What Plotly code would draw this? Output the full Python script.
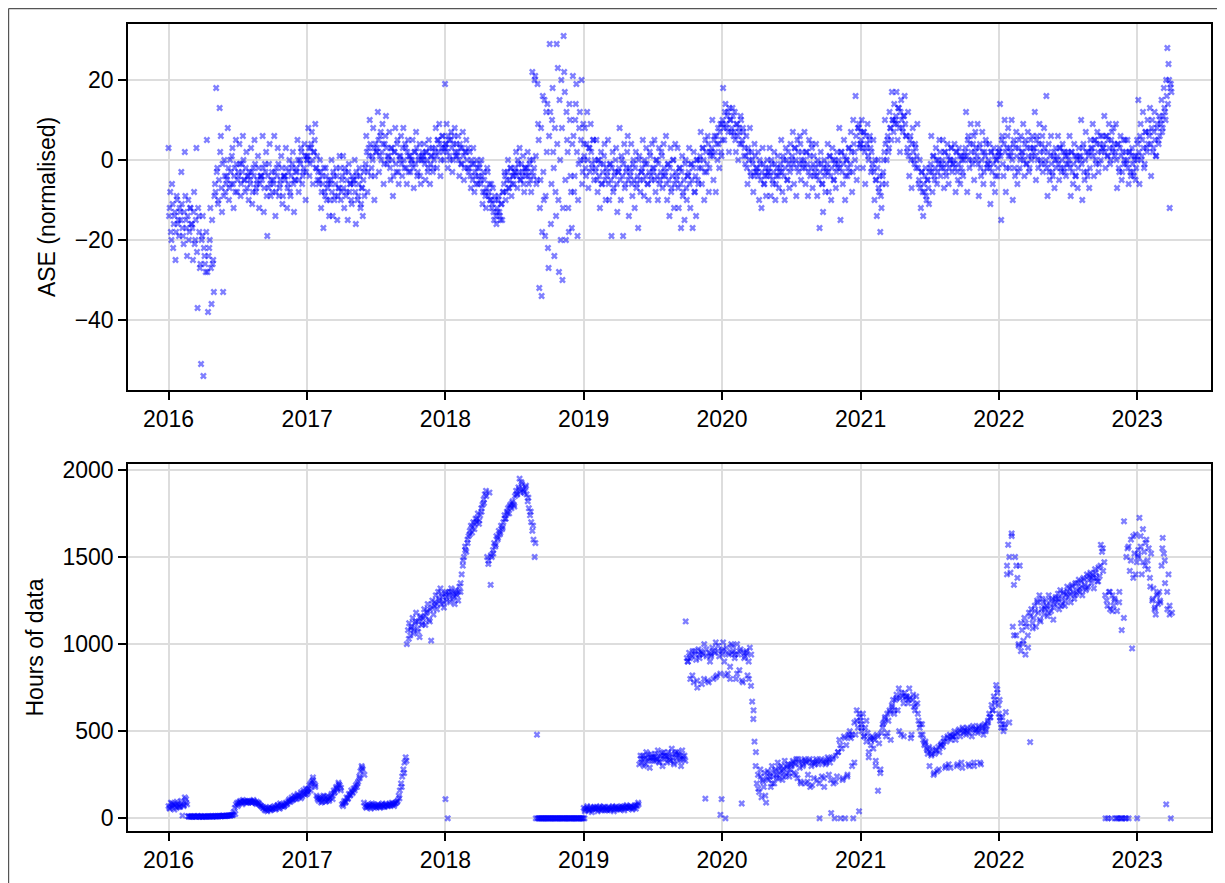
import pandas as pd
import plotly.graph_objects as go
from plotly.subplots import make_subplots

# ASE (normalised): ten readings per month, Jan..Dec (wide spread)
ase_2016 = [3, -12, -18, -6, -22, -14, -25, -9, -16, -19,
            -13, -3, -17, -21, 2, -15, -24, -10, -18, -12,
            -16, -25, -8, -20, 3, -37, -14, -27, -51, -19,
            -54, -24, -28, 5, -38, -22, -12, -36, -26, -33,
            -6, 18, -2, -10, 13, 6, -13, -33, 0, -8,
            -4, 8, -10, 0, -6, 3, -12, -2, 5, -8,
            -3, 4, -9, -1, 6, -5, -8, 2, -4, -10,
            -5, 3, -11, -2, 5, -8, -6, 1, -12, -4,
            -4, 6, -13, -1, 2, -19, -7, 4, -9, -3,
            -5, 6, -14, -2, 3, -9, -6, 1, -11, -4,
            -4, 3, -12, -6, 0, -9, -2, 2, -13, -5,
            -2, 5, -8, 0, 3, -6, -3, 4, -10, 1]
ase_2017 = [0, 8, -4, 3, 7, -6, 2, 9, -2, -5,
            -6, 0, -12, -4, -17, -8, -2, -10, -6, -14,
            -6, 0, -14, -4, -9, -2, -15, -7, 1, -10,
            -5, 1, -12, -3, -8, -15, -1, -6, -10, -4,
            -6, 0, -16, -4, -9, -2, -12, -7, -14, -3,
            -2, 6, -8, 3, 10, -4, 1, 8, -10, 4,
            2, 12, -3, 6, 0, 9, -6, 4, 11, -1,
            0, 7, -5, 3, -9, 2, 8, -3, 5, -6,
            0, 6, -4, 8, -2, 3, -6, 5, 1, -3,
            -1, 5, -7, 2, 7, -4, 0, 4, -6, 1,
            0, 4, -5, 2, -3, 5, -6, 1, 3, -2,
            2, 8, -2, 5, 9, -4, 3, 6, 0, 19]
ase_2018 = [3, 9, -2, 5, 0, 7, -3, 4, 8, 1,
            1, 6, -4, 3, -1, 7, -5, 2, 5, -2,
            -3, 2, -7, -1, 3, -8, -4, 0, -6, -2,
            -5, 0, -11, -3, -8, -12, -2, -9, -6, -10,
            -12, -7, -15, -10, -16, -13, -9, -14, -11, -15,
            -8, -3, -10, -5, 0, -7, -2, -9, -4, -6,
            -3, 2, -7, -1, 3, -5, -4, 1, -8, -2,
            -3, 2, -6, 0, -8, 22, -4, 20, 1, -5,
            9, -32, -5, -34, 16, -10, -19, 12, 14, -27,
            29, -16, 10, 2, -24, -8, 29, 23, -28, 0,
            20, -30, 31, 17, -20, 5, -12, 14, -4, -17,
            21, -8, 10, 19, -19, -1, 12, 5, -6, 9]
ase_2019 = [0, 8, -4, 12, -7, 3, 9, -2, 5, -5,
            -3, 5, -8, 0, -12, 2, -6, -1, 4, -10,
            -4, 5, -10, -1, -19, 2, -7, -3, 3, -13,
            -3, 8, -10, 0, -19, 4, -6, -2, 6, -14,
            -4, 4, -9, 0, -12, 2, -6, -17, 1, -8,
            -3, 5, -9, -1, 3, -6, -10, 2, -4, 4,
            -3, 5, -8, 0, -10, 3, -5, 2, -7, 4,
            -4, 6, -10, -1, -14, 3, -7, 0, -12, 4,
            -5, 3, -12, -2, -17, 1, -8, -15, 0, -10,
            -4, 3, -12, -1, -17, 2, -8, -14, 0, -6,
            0, 7, -6, 3, -10, 5, -3, 6, -8, 2,
            2, 10, -5, 6, -8, 4, 8, -2, 9, 1]
ase_2020 = [9, 18, 5, 14, 8, 12, 2, 10, 7, 13,
            6, 12, 2, 9, 0, 7, 11, 4, 8, 1,
            -1, 6, -6, 2, 8, -4, 0, -8, 4, -3,
            -3, 2, -10, -1, -12, 3, -6, -4, -9, 0,
            -3, 3, -9, -1, -6, 2, -10, -4, 1, -7,
            -2, 5, -8, 0, -10, 3, -5, 2, -7, 4,
            0, 7, -6, 3, -9, 5, -3, 6, -5, 2,
            -1, 7, -6, 2, -9, 5, -4, 4, -7, 1,
            -3, 4, -9, -1, -17, 2, -6, -13, 0, -8,
            -2, 4, -8, 1, -10, 3, -5, 0, -7, 2,
            -1, 8, -15, 2, -6, 5, -10, 0, -4, 3,
            -3, 7, -8, 10, 2, 16, -5, 8, 9, 4]
ase_2021 = [4, 10, -2, 7, -6, 3, 9, 0, 6, -3,
            -2, 5, -10, -5, -14, 0, -8, -18, -12, -4,
            0, 10, -6, 5, 2, 12, 8, 17, 10, 14,
            10, 17, 5, 13, 2, 15, 8, 11, 16, 6,
            2, 12, -4, 6, -7, 8, 0, 4, -2, 9,
            -6, 0, -12, -3, -14, -8, -2, -10, -5, -11,
            -2, 6, -8, 1, -5, 3, -6, 0, 5, -4,
            -1, 5, -7, 2, -4, 4, -6, 0, 3, -3,
            -1, 4, -8, 2, -5, 3, -6, 1, -3, 0,
            2, 12, -8, 6, -2, 9, 0, 4, -5, 7,
            0, 9, -9, 4, -4, 7, -6, 2, 5, -2,
            -1, 4, -11, 2, -6, 3, -8, 0, -4, 1]
ase_2022 = [2, 14, -15, 6, -4, 10, -8, 3, 8, -2,
            1, 10, -10, 5, -4, 7, -6, 3, -2, 6,
            1, 9, -4, 5, -1, 7, -3, 3, 0, 6,
            2, 12, -5, 6, -2, 9, 0, 4, -3, 8,
            -1, 16, -9, 4, -5, 6, -3, 1, -7, 3,
            0, 6, -5, 3, -3, 4, -2, 2, -4, 1,
            -1, 6, -9, 2, -6, 4, -4, 1, -7, 3,
            0, 10, -10, 4, -5, 7, -3, 2, -7, 5,
            2, 9, -4, 5, -1, 7, -3, 4, 0, 6,
            3, 11, -2, 6, 1, 9, -1, 5, 2, 8,
            1, 9, -7, 4, -3, 6, -5, 2, -1, 5,
            -1, 5, -6, 2, -4, 3, -3, 0, -5, 1]
ase_2023 = [5, 15, -6, 9, 1, 12, -2, 7, 3, 10,
            7, 13, -4, 10, 3, 12, 1, 8, 5, 11,
            10, 15, 8, 18, 12, 20, 28, 24, -12, 19]

# ASE (normalised): second set of ten readings per month (core of the cloud)
ase_b_2016 = [-14, -8, -20, -11, -16, -13, -18, -10, -15, -12,
              -15, -11, -19, -13, -9, -17, -14, -20, -12, -16,
              -17, -13, -21, -15, -23, -12, -18, -26, -20, -14,
              -22, -26, -18, -28, -24, -20, -27, -15, -25, -9,
              -8, -3, -11, -5, 2, -7, -1, -9, -4, -6,
              -5, -2, -7, -3, 1, -6, -4, -8, -1, -5,
              -4, -1, -6, -3, 0, -5, -2, -7, -4, -3,
              -6, -3, -8, -4, -1, -7, -5, -2, -6, -4,
              -5, -2, -7, -3, -9, -4, -1, -6, -5, -8,
              -6, -3, -8, -4, -1, -7, -5, -2, -9, -4,
              -5, -2, -7, -3, -8, -4, -1, -6, -5, -3,
              -3, 0, -5, -1, 2, -4, -2, 1, -3, 0]
ase_b_2017 = [1, 3, -1, 4, 0, 2, 5, -2, 1, -3,
              -5, -3, -8, -6, -2, -9, -4, -7, -5, -10,
              -5, -8, -3, -10, -6, -4, -9, -7, -2, -8,
              -4, -7, -2, -9, -5, -3, -8, -6, -11, -5,
              -5, -8, -3, -10, -6, -4, -11, -7, -5, -9,
              -1, 2, -3, 1, 4, -2, 0, 3, -4, 2,
              3, 5, 1, 7, 2, 4, -1, 6, 3, 1,
              1, -2, 3, 0, -4, 2, -1, 4, -3, 1,
              1, -1, 3, 0, 4, -2, 2, -3, 1, 0,
              0, -2, 2, -1, 3, -3, 1, -4, 0, 2,
              1, -1, 2, 0, -2, 3, -1, 1, -3, 0,
              3, 1, 5, 2, 4, 0, 6, 2, 3, 4]
ase_b_2018 = [4, 2, 6, 1, 5, 3, 0, 6, 2, 4,
              2, 0, 4, -1, 3, 1, -2, 2, 0, 3,
              -2, -4, 0, -5, -1, -3, -6, -2, -4, -1,
              -6, -4, -8, -5, -9, -7, -3, -8, -10, -6,
              -11, -13, -9, -14, -12, -10, -13, -15, -11, -8,
              -6, -4, -8, -3, -7, -5, -2, -6, -4, -3,
              -2, -4, 0, -3, -5, -1, -3, -6, -2, -4,
              -2, -4, -1, -5, -3, 0, -2, 21, -6, 19,
              5, -12, 8, -18, -3, 15, -9, 2, -22, 6,
              12, -6, 18, -2, 8, -14, 4, -10, 15, -20,
              8, -12, 22, -5, 12, 2, -18, 10, -8, 4,
              6, -4, 14, 2, -10, 8, 0, 20, -3, 4]
ase_b_2019 = [1, -2, 4, 0, 3, -3, 2, -1, 5, 0,
              -2, -5, 0, -4, -1, -6, -3, 1, -5, -2,
              -3, -6, -1, -5, -2, -8, -4, 0, -6, -3,
              -2, -5, 1, -4, -1, -7, -3, 2, -5, -2,
              -3, -6, -1, -5, -2, -7, -4, 0, -5, -3,
              -2, -5, 0, -4, -1, -6, -3, 1, -5, -2,
              -2, -5, 0, -4, -1, -6, -3, 1, -4, -2,
              -3, -6, -1, -5, -2, -8, -4, 0, -6, -3,
              -4, -7, -2, -6, -3, -9, -5, -1, -7, -4,
              -3, -6, -1, -5, -2, -8, -4, 0, -5, -2,
              1, -2, 3, 0, -3, 2, -1, 4, -2, 1,
              3, 1, 5, 2, 6, 0, 4, 7, 2, 5]
ase_b_2020 = [10, 8, 12, 9, 11, 7, 13, 10, 8, 11,
              7, 5, 9, 6, 8, 4, 10, 5, 7, 3,
              1, -2, 3, 0, -3, 2, -1, -4, 1, -2,
              -2, -4, 0, -5, -3, -1, -6, -2, -4, -3,
              -2, -4, 0, -5, -3, -1, -6, -2, -4, -3,
              -1, -3, 1, -4, -2, 0, -5, -1, -3, -2,
              1, -1, 3, 0, -2, 2, -1, 4, 0, -2,
              0, -2, 2, -1, -3, 1, -2, 3, -1, -4,
              -2, -4, 0, -5, -3, -1, -6, -2, -4, -3,
              -1, -3, 1, -4, -2, 0, -5, -1, -3, -2,
              0, -2, 2, -3, -1, 1, -4, 0, -2, 3,
              -1, 2, -3, 4, 0, 6, -2, 8, 3, 7]
ase_b_2021 = [5, 3, 7, 2, 6, 4, 1, 5, 3, 2,
              -1, -3, 0, -5, -2, -7, -4, -9, -6, -3,
              2, 4, 0, 6, 3, 8, 5, 10, 7, 9,
              11, 9, 13, 8, 12, 10, 7, 11, 9, 6,
              3, 1, 5, 0, 4, 2, -1, 3, 1, -2,
              -5, -7, -3, -8, -6, -4, -9, -5, -7, -3,
              -1, -3, 1, -4, -2, 0, -3, -1, 2, -2,
              0, -2, 2, -3, -1, 1, -2, 0, 3, -1,
              0, -2, 2, -3, -1, 1, -2, 0, -4, 1,
              3, 1, 5, 0, 4, 2, -1, 6, 2, 3,
              1, -1, 3, -2, 0, 2, -3, 1, 4, -1,
              0, -2, 2, -3, -1, 1, -4, 0, -2, 2]
ase_b_2022 = [3, 1, 5, -1, 4, 2, -2, 6, 1, 3,
              2, 0, 4, -2, 3, 1, -3, 5, 0, 2,
              2, 0, 4, -1, 3, 1, -2, 5, 1, 3,
              3, 1, 5, 0, 4, 2, -1, 6, 2, 3,
              0, -2, 2, -3, 1, -1, -4, 2, 0, -2,
              1, -1, 3, -2, 0, 2, -3, 1, -1, 2,
              0, -2, 2, -3, -1, 1, -4, 0, -2, 1,
              1, -1, 3, -3, 0, 2, -4, 1, -2, 3,
              3, 1, 5, 0, 4, 2, -1, 6, 2, 3,
              4, 2, 6, 1, 5, 3, 0, 7, 3, 4,
              2, 0, 4, -2, 3, 1, -3, 5, 0, 2,
              0, -2, 2, -3, 1, -1, -4, 1, -2, 0]
ase_b_2023 = [4, 2, 6, 0, 5, 3, -1, 7, 2, 4,
              6, 4, 8, 2, 7, 5, 1, 9, 4, 6,
              9, 7, 11, 13, 10, 16, 14, 20, 18, 17]

# Hours of data: ten readings per month, Jan..Dec
hours_2016 = [70, 55, 90, 65, 80, 50, 75, 60, 85, 70,
              65, 100, 15, 75, 120, 90, 80, 12, 10, 8,
              10, 8, 12, 10, 9, 11, 10, 8, 12, 10,
              10, 12, 9, 11, 10, 12, 10, 11, 9, 12,
              12, 10, 13, 11, 14, 12, 13, 15, 12, 14,
              15, 14, 17, 16, 18, 20, 35, 60, 80, 90,
              85, 95, 100, 90, 105, 95, 100, 90, 98, 92,
              95, 100, 90, 105, 92, 88, 95, 85, 80, 75,
              70, 60, 55, 45, 60, 40, 55, 65, 50, 60,
              55, 70, 50, 65, 75, 60, 85, 70, 80, 65,
              75, 90, 80, 100, 110, 95, 120, 105, 130, 115,
              110, 140, 120, 130, 150, 125, 160, 140, 170, 155]
hours_2017 = [140, 170, 190, 160, 210, 235, 200, 180, 130, 110,
              100, 120, 90, 115, 130, 105, 95, 125, 110, 100,
              120, 140, 110, 160, 150, 180, 170, 205, 190, 160,
              80, 70, 100, 90, 120, 110, 140, 130, 160, 150,
              170, 160, 190, 180, 210, 240, 270, 300, 280, 90,
              70, 60, 80, 65, 75, 55, 85, 70, 60, 75,
              65, 80, 70, 60, 75, 85, 70, 65, 80, 75,
              70, 85, 75, 90, 80, 70, 85, 90, 100, 130,
              160, 200, 240, 280, 320, 350, 1000, 1080, 1120, 1050,
              1100, 1150, 1060, 1120, 1180, 1090, 1130, 1040, 1160, 1110,
              1150, 1200, 1110, 1180, 1230, 1140, 1200, 1020, 1250, 1170,
              1240, 1280, 1200, 1300, 1250, 1320, 1230, 1270, 1210, 1290]
hours_2018 = [110, 1270, 0, 1300, 1240, 1320, 1260, 1290, 1230, 1310,
              1280, 1250, 1330, 1300, 1400, 1450, 1500, 1560, 1530, 1600,
              1620, 1650, 1680, 1640, 1700, 1660, 1720, 1700, 1750, 1690,
              1740, 1780, 1800, 1830, 1860, 1880, 1500, 1460, 1870, 1340,
              1500, 1540, 1580, 1560, 1620, 1600, 1650, 1630, 1680, 1660,
              1700, 1740, 1720, 1760, 1780, 1750, 1800, 1780, 1820, 1800,
              1850, 1880, 1860, 1900, 1950, 1870, 1920, 1890, 1870, 1900,
              1860, 1820, 1780, 1740, 1700, 1650, 1600, 1500, 0, 480,
              0, 0, 0, 0, 0, 0, 0, 0, 0, 0,
              0, 0, 0, 0, 0, 0, 0, 0, 0, 0,
              0, 0, 0, 0, 0, 0, 0, 0, 0, 0,
              0, 0, 0, 0, 0, 0, 0, 0, 0, 0]
hours_2019 = [60, 40, 55, 70, 45, 50, 65, 35, 55, 60,
              50, 65, 40, 55, 70, 45, 60, 50, 65, 55,
              55, 45, 65, 50, 60, 70, 40, 55, 65, 50,
              60, 50, 70, 55, 65, 45, 60, 75, 55, 65,
              60, 70, 50, 65, 75, 55, 70, 90, 310, 360,
              320, 360, 300, 350, 380, 330, 340, 290, 370, 350,
              350, 330, 370, 340, 390, 320, 360, 350, 300, 380,
              340, 360, 320, 380, 350, 330, 400, 345, 310, 370,
              350, 380, 330, 360, 300, 390, 340, 360, 1130, 920,
              900, 950, 800, 930, 960, 780, 940, 910, 750, 970,
              920, 960, 770, 940, 1000, 113, 930, 790, 950, 900,
              940, 980, 800, 950, 1010, 820, 960, 930, 20, 110]
hours_2020 = [960, 1010, 900, 0, 980, 830, 940, 870, 1000, 950,
              960, 920, 800, 1000, 940, 850, 970, 85, 780, 950,
              930, 960, 820, 900, 980, 760, 670, 570, 440, 300,
              200, 250, 150, 280, 120, 220, 180, 260, 90, 230,
              220, 260, 180, 300, 240, 200, 280, 250, 320, 230,
              260, 300, 220, 280, 330, 250, 290, 310, 240, 280,
              300, 330, 260, 310, 340, 230, 320, 290, 200, 330,
              310, 340, 200, 320, 250, 330, 180, 300, 320, 230,
              320, 340, 220, 310, 0, 330, 240, 320, 180, 310,
              330, 350, 250, 320, 30, 340, 200, 0, 360, 240,
              380, 450, 0, 400, 230, 470, 0, 420, 250, 480,
              500, 460, 300, 0, 550, 480, 620, 520, 40, 580]
hours_2021 = [560, 500, 600, 470, 520, 440, 490, 350, 460, 420,
              470, 400, 450, 300, 480, 158, 430, 260, 490, 520,
              550, 580, 470, 600, 560, 620, 450, 650, 680, 600,
              680, 710, 620, 745, 690, 480, 700, 660, 720, 690,
              700, 660, 745, 690, 480, 680, 640, 620, 700, 660,
              560, 520, 480, 540, 450, 420, 440, 400, 370, 410,
              380, 360, 400, 250, 370, 390, 270, 410, 380, 420,
              430, 410, 460, 290, 440, 470, 310, 480, 450, 470,
              470, 500, 450, 300, 490, 510, 470, 320, 520, 490,
              500, 480, 520, 310, 490, 510, 470, 530, 300, 500,
              510, 490, 530, 320, 500, 520, 480, 540, 510, 530,
              550, 600, 580, 650, 620, 700, 680, 765, 720, 650]
hours_2022 = [600, 560, 520, 580, 500, 540, 610, 1400, 1570, 550,
              1410, 1635, 1100, 1340, 1500, 1050, 1380, 1000, 1450, 960,
              1080, 1000, 1150, 940, 1100, 1050, 1180, 437, 1200, 1120,
              1150, 1220, 1100, 1250, 1180, 1280, 1130, 1200, 1240, 1170,
              1200, 1250, 1160, 1280, 1220, 1190, 1260, 1140, 1230, 1270,
              1240, 1290, 1200, 1310, 1260, 1230, 1300, 1220, 1280, 1330,
              1270, 1320, 1240, 1340, 1300, 1260, 1350, 1290, 1310, 1370,
              1300, 1360, 1280, 1380, 1340, 1310, 1400, 1330, 1370, 1410,
              1350, 1400, 1320, 1430, 1380, 1360, 1440, 1390, 1570, 1530,
              1420, 1470, 0, 1250, 0, 1300, 1200, 0, 1280, 1220,
              1250, 0, 1190, 0, 1300, 0, 1080, 0, 1705, 0,
              1500, 1550, 0, 1420, 1600, 975, 1380, 1520, 1630, 1470]
hours_2023 = [0, 1500, 1725, 1560, 1400, 1660, 1530, 1450, 1600, 1480,
              1550, 1380, 1520, 1250, 1320, 1200, 1170, 1280, 1230, 1300,
              1240, 1450, 1610, 1520, 1350, 80, 1200, 1400, 1170, 0]

# Hours of data: second set, five readings per month
hours_b_2016 = [60, 85, 75, 95, 65, 80, 70, 110, 10, 12, 11, 9, 13, 10, 8,
                9, 11, 10, 13, 11, 11, 13, 12, 14, 13, 16, 15, 19, 25, 70,
                90, 80, 95, 88, 100, 90, 98, 82, 88, 70, 65, 50, 58, 45, 55,
                60, 75, 55, 70, 72, 85, 95, 105, 110, 125, 130, 115, 145, 135, 165]
hours_b_2017 = [150, 200, 220, 190, 120, 110, 95, 125, 100, 115, 130, 145, 170, 195, 175,
                85, 95, 115, 135, 145, 175, 200, 230, 290, 250, 65, 75, 70, 80, 65,
                70, 75, 65, 80, 70, 75, 80, 85, 95, 115, 180, 260, 330, 1030, 1090,
                1080, 1130, 1070, 1150, 1120, 1160, 1190, 1130, 1210, 1220, 1230, 1260, 1290, 1240, 1300]
hours_b_2018 = [1250, 1280, 1300, 1270, 1290, 1300, 1350, 1480, 1540, 1580,
                1630, 1670, 1690, 1720, 1710, 1760, 1810, 1850, 1480, 1510,
                1520, 1570, 1610, 1640, 1670, 1720, 1750, 1790, 1810, 1790,
                1860, 1890, 1930, 1880, 1910, 1840, 1760, 1680, 1580, 0,
                0, 0, 0, 0, 0, 0, 0, 0, 0, 0, 0, 0, 0, 0, 0, 0, 0, 0, 0, 0]
hours_b_2019 = [50, 60, 45, 55, 65, 55, 60, 50, 65, 45, 60, 50, 55, 65, 58,
                55, 65, 60, 70, 62, 65, 60, 75, 80, 340, 340, 310, 365, 345, 330,
                355, 340, 325, 375, 360, 355, 335, 370, 320, 380, 365, 340, 355, 330, 900,
                920, 820, 960, 790, 940, 950, 800, 970, 780, 930, 960, 810, 990, 830, 940]
hours_b_2020 = [970, 820, 950, 800, 990, 940, 830, 960, 790, 920, 950, 800, 940, 620, 380,
                170, 240, 210, 130, 270, 240, 200, 270, 230, 290, 270, 240, 300, 260, 310,
                320, 250, 340, 210, 300, 330, 210, 340, 190, 310, 330, 200, 340, 230, 320,
                340, 220, 350, 210, 380, 420, 220, 460, 240, 470, 480, 320, 560, 600, 540]
hours_b_2021 = [520, 470, 560, 380, 450, 460, 330, 470, 280, 540, 570, 490, 610, 640, 620,
                690, 500, 720, 470, 700, 680, 460, 710, 650, 600, 540, 480, 430, 390, 300,
                370, 260, 390, 280, 420, 440, 300, 460, 290, 470, 480, 310, 500, 290, 510,
                500, 300, 520, 320, 510, 520, 310, 530, 500, 560, 580, 620, 660, 740, 680]
hours_b_2022 = [580, 540, 520, 1450, 1500, 1620, 1050, 1450, 990, 1120, 1020, 1120, 980, 1160, 1090,
                1190, 1240, 1140, 1260, 1210, 1220, 1180, 1250, 1210, 1260, 1260, 1220, 1290, 1250, 1300,
                1290, 1330, 1280, 1350, 1320, 1330, 1370, 1320, 1390, 1380, 1380, 1410, 1360, 1450, 1550,
                1280, 1220, 1300, 1190, 1260, 0, 1240, 0, 1150, 0, 1560, 1480, 1620, 1400, 1510]
hours_b_2023 = [1540, 1620, 1470, 1580, 1430, 1330, 1260, 1210, 1290, 1250,
                1550, 1480, 1300, 1220, 1180]

year_ends = {2016: "2016-12-31", 2017: "2017-12-31", 2018: "2018-12-31",
             2019: "2019-12-31", 2020: "2020-12-31", 2021: "2021-12-31",
             2022: "2022-12-31", 2023: "2023-03-31"}
years = list(range(2016, 2024))
ase_years = [ase_2016, ase_2017, ase_2018, ase_2019, ase_2020, ase_2021, ase_2022, ase_2023]
ase_b_years = [ase_b_2016, ase_b_2017, ase_b_2018, ase_b_2019, ase_b_2020, ase_b_2021,
               ase_b_2022, ase_b_2023]
hours_years = [hours_2016, hours_2017, hours_2018, hours_2019, hours_2020, hours_2021,
               hours_2022, hours_2023]
hours_b_years = [hours_b_2016, hours_b_2017, hours_b_2018, hours_b_2019, hours_b_2020,
                 hours_b_2021, hours_b_2022, hours_b_2023]


def series(per_year, shift_days=0):
    xs, ys = [], []
    for yr, vals in zip(years, per_year):
        d = pd.date_range(f"{yr}-01-01", year_ends[yr], periods=len(vals))
        d = d + pd.Timedelta(days=shift_days)
        xs.extend(d)
        ys.extend(vals)
    return xs, ys


ax1, ay1 = series(ase_years)
ax2, ay2 = series(ase_b_years, shift_days=1.5)
hx1, hy1 = series(hours_years)
hx2, hy2 = series(hours_b_years, shift_days=3)

FONT = "Liberation Sans, Arial, Helvetica, sans-serif"
fig = make_subplots(rows=2, cols=1)

marker = dict(symbol="x", size=6, color="#0000ff", opacity=0.5, line=dict(width=0))
fig.add_trace(go.Scatter(x=ax1 + ax2, y=ay1 + ay2, mode="markers", marker=marker,
                         showlegend=False), row=1, col=1)
fig.add_trace(go.Scatter(x=hx1 + hx2, y=hy1 + hy2, mode="markers", marker=marker,
                         showlegend=False), row=2, col=1)

axis_common = dict(showline=True, linecolor="black", linewidth=1.5, mirror=True,
                   ticks="outside", ticklen=8, tickwidth=1.5, tickcolor="black",
                   showgrid=True, gridcolor="#dddddd", gridwidth=1.5, zeroline=False,
                   tickfont=dict(family=FONT, size=23, color="black"))

for r in (1, 2):
    fig.update_xaxes(**axis_common, type="date", range=["2015-09-16", "2023-07-15"],
                     tick0="2016-01-01", dtick="M12", tickformat="%Y", row=r, col=1)

fig.update_yaxes(**axis_common, range=[-57.5, 34], tickvals=[-40, -20, 0, 20],
                 ticktext=["\u221240", "\u221220", "0", "20"],
                 title=dict(text="ASE (normalised)", font=dict(family=FONT, size=23, color="black"),
                            standoff=13), row=1, col=1)
fig.update_yaxes(**axis_common, range=[-73, 2034], tickvals=[0, 500, 1000, 1500, 2000],
                 title=dict(text="Hours of data", font=dict(family=FONT, size=23, color="black"),
                            standoff=12), row=2, col=1)

fig.update_layout(
    width=1217, height=875,
    margin=dict(l=120, r=14, t=16, b=52, autoexpand=False),
    paper_bgcolor="white", plot_bgcolor="white",
    yaxis=dict(domain=[0.5465, 1.0]),
    yaxis2=dict(domain=[0.0, 0.4548]),
    font=dict(family=FONT, size=23, color="black"),
)

# outer figure frame (top and left edges visible)
fx = (0.6 - 120) / 1083
fy = 1 + (16 - 0.6) / 807
fig.add_shape(type="line", xref="paper", yref="paper", x0=fx, x1=1.02, y0=fy, y1=fy,
              line=dict(color="#555555", width=1.2))
fig.add_shape(type="line", xref="paper", yref="paper", x0=fx, x1=fx, y0=-0.07, y1=fy,
              line=dict(color="#555555", width=1.2))

fig.write_html("out.html")
